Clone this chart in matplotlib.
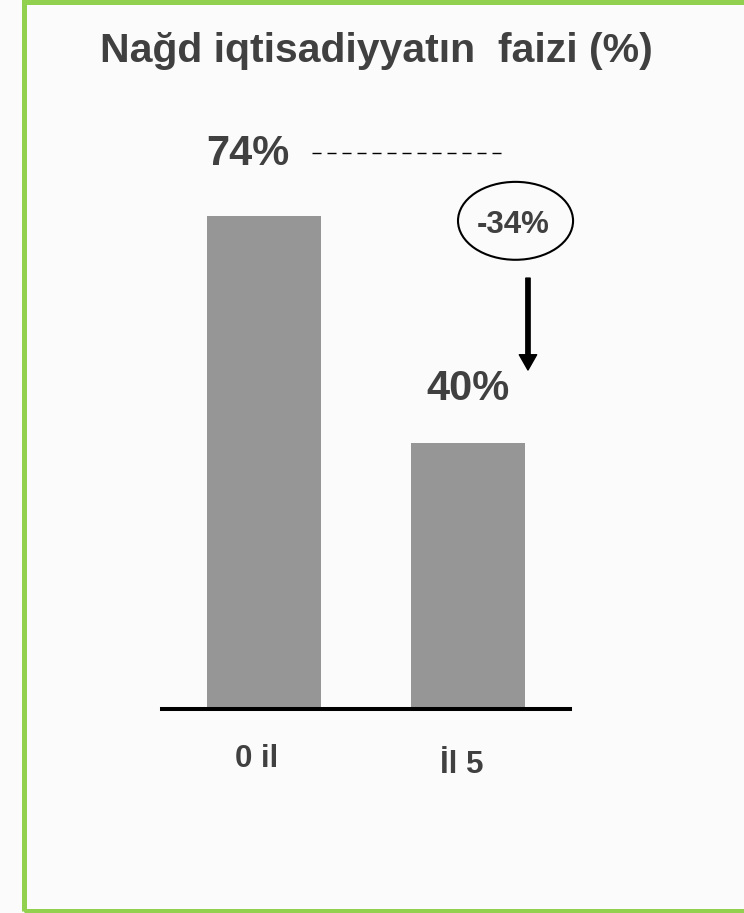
import matplotlib
matplotlib.use("Agg")
import matplotlib.pyplot as plt
from matplotlib.patches import Rectangle, Ellipse

plt.rcParams['font.family'] = ['Liberation Sans', 'DejaVu Sans']

# ---- data ----
categories = ["0 il", "İl 5"]
values = [74, 40]
title = "Nağd iqtisadiyyatın  faizi (%)"
change_label = f"{values[1] - values[0]}%"

TEXT = '#404040'
BAR = '#969696'
GREEN = '#92d050'

W, H = 744, 913
fig = plt.figure(figsize=(W / 100, H / 100), dpi=100)
fig.patch.set_facecolor('#fbfbfb')

# axes placed in pixel geometry
left, right, y0, ytop = 162, 570, 709, 43
ax = fig.add_axes([left / W, (H - y0) / H, (right - left) / W, (y0 - ytop) / H])
ax.set_xlim(-0.5, 1.5)
ax.set_ylim(0, 100)
ax.patch.set_alpha(0)
for s in ['top', 'right', 'left']:
    ax.spines[s].set_visible(False)
ax.spines['bottom'].set_linewidth(2.9)
ax.spines['bottom'].set_color('black')
ax.spines['bottom'].set_zorder(5)
ax.set_yticks([])
ax.set_xticks([])

x = list(range(len(categories)))
ax.bar(x, values, width=0.56, color=BAR, zorder=2)

# value labels
ax.text(x[0] - 0.081, values[0] + 7.7, f"{values[0]}%", ha='center', va='baseline',
        fontsize=30, fontweight='bold', color=TEXT)
ax.text(x[1], values[1] + 6.4, f"{values[1]}%", ha='center', va='baseline',
        fontsize=30, fontweight='bold', color=TEXT)

# dashed reference line
ax.plot([0.235, 1.181], [values[0] + 9.5, values[0] + 9.5], color='black',
        lw=1.0, linestyle=(0, (6.5, 4.3)), clip_on=False)

# change ellipse
ax.add_patch(Ellipse((1.233, 73.3), 0.564, 11.7, fill=False, edgecolor='black',
                     lw=1.5, clip_on=False, zorder=4))
ax.text(1.223, 71.5, change_label, ha='center', va='baseline', fontsize=22.5,
        fontweight='bold', color=TEXT)

# arrow
ax.annotate('', xy=(1.294, 50.9), xytext=(1.294, 64.7),
            arrowprops=dict(width=3.1, headwidth=12.5, headlength=11,
                            color='black', shrink=0), annotation_clip=False)

# category labels
ax.text(x[0] - 0.037, -8.66, categories[0], ha='center', va='baseline', fontsize=22.5,
        fontweight='bold', color=TEXT, clip_on=False)
ax.text(x[1] - 0.029, -9.56, categories[1], ha='center', va='baseline', fontsize=22.5,
        fontweight='bold', color=TEXT, clip_on=False)

# title
fig.text(376 / W, 1 - 62 / H, title, ha='center', va='baseline', fontsize=29.5,
         fontweight='bold', color=TEXT)

# green frame
fig.add_artist(Rectangle((23.5 / W, 2 / H), 800 / W, 909 / H, transform=fig.transFigure,
                         fill=False, edgecolor=GREEN, lw=3.6))

fig.savefig('out.png', dpi=100, facecolor=fig.get_facecolor())
